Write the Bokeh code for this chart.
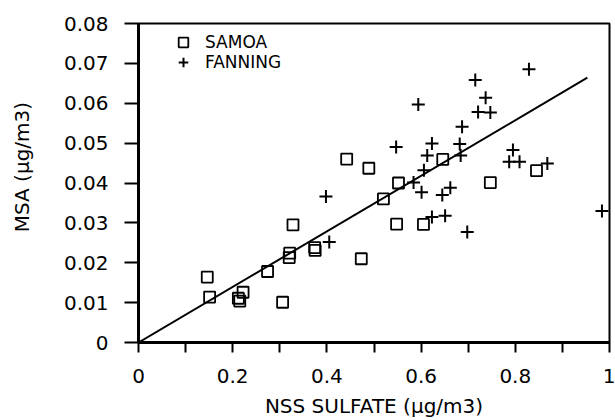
from bokeh.plotting import figure
from bokeh.models import Range1d, FixedTicker, Legend, LegendItem
from bokeh.embed import file_html
from bokeh.resources import INLINE

# ---- data ----
series_names = ["SAMOA", "FANNING"]

samoa_x = [0.146, 0.151, 0.222, 0.212, 0.215, 0.274, 0.306, 0.320, 0.321, 0.328,
           0.374, 0.375, 0.442, 0.473, 0.489, 0.520, 0.548, 0.552, 0.605, 0.646,
           0.747, 0.845]
samoa_y = [0.0164, 0.0114, 0.0126, 0.0111, 0.0104, 0.0178, 0.0101, 0.0213, 0.0224, 0.0295,
           0.0238, 0.0231, 0.0460, 0.0210, 0.0437, 0.0360, 0.0297, 0.0400, 0.0296, 0.0459,
           0.0401, 0.0431]

fanning_x = [0.398, 0.405, 0.547, 0.584, 0.594, 0.601, 0.606, 0.613, 0.623, 0.623,
             0.645, 0.651, 0.662, 0.682, 0.684, 0.687, 0.698, 0.715, 0.721, 0.737,
             0.747, 0.787, 0.795, 0.809, 0.829, 0.868, 0.984]
fanning_y = [0.0366, 0.0252, 0.0490, 0.0401, 0.0597, 0.0377, 0.0432, 0.0469, 0.0499, 0.0315,
             0.0370, 0.0318, 0.0388, 0.0498, 0.0469, 0.0541, 0.0277, 0.0658, 0.0578, 0.0614,
             0.0577, 0.0453, 0.0483, 0.0453, 0.0685, 0.0449, 0.0330]

fit_x = [0.0, 0.953]
fit_y = [0.0, 0.0664]

x_ticks = [0.0, 0.2, 0.4, 0.6, 0.8, 1.0]
x_tick_labels = ["0", "0.2", "0.4", "0.6", "0.8", "1"]
x_minor_ticks = [0.1, 0.3, 0.5, 0.7, 0.9]
y_ticks = [0.0, 0.01, 0.02, 0.03, 0.04, 0.05, 0.06, 0.07, 0.08]
y_tick_labels = ["0", "0.01", "0.02", "0.03", "0.04", "0.05", "0.06", "0.07", "0.08"]

x_title = "NSS SULFATE (\u00b5g/m3)"
y_title = "MSA (\u00b5g/m3)"

FONT = "DejaVu Sans"
W, H = 615, 420

p = figure(width=W, height=H,
           x_range=Range1d(0, 1), y_range=Range1d(0, 0.08),
           output_backend="svg", toolbar_location=None,
           min_border_left=138, min_border_right=W - 609,
           min_border_top=23, min_border_bottom=H - 342)

p.background_fill_color = "white"
p.border_fill_color = "white"
p.outline_line_color = "black"
p.outline_line_width = 2
p.xgrid.visible = False
p.ygrid.visible = False

# x axis
xa = p.xaxis[0]
xa.ticker = FixedTicker(ticks=x_ticks, minor_ticks=x_minor_ticks)
xa.major_label_overrides = {t: l for t, l in zip(x_ticks, x_tick_labels)}
xa.axis_line_width = 3
xa.axis_line_color = "black"
xa.major_tick_in = 0
xa.major_tick_out = 10
xa.minor_tick_in = 0
xa.minor_tick_out = 10
xa.major_tick_line_width = 2
xa.minor_tick_line_width = 2
xa.major_tick_line_color = "black"
xa.minor_tick_line_color = "black"
xa.major_label_text_font = FONT
xa.major_label_text_font_size = "20px"
xa.major_label_text_color = "black"
xa.major_label_text_line_height = 0.8
xa.major_label_standoff = 16
xa.axis_label = x_title
xa.axis_label_text_font = FONT
xa.axis_label_text_font_size = "20px"
xa.axis_label_text_font_style = "normal"
xa.axis_label_text_color = "black"
xa.axis_label_standoff = 8

# y axis
ya = p.yaxis[0]
ya.ticker = FixedTicker(ticks=y_ticks, minor_ticks=[])
ya.major_label_overrides = {t: l for t, l in zip(y_ticks, y_tick_labels)}
ya.axis_line_width = 3
ya.axis_line_color = "black"
ya.major_tick_in = 0
ya.major_tick_out = 14
ya.major_tick_line_width = 2
ya.major_tick_line_color = "black"
ya.minor_tick_line_color = None
ya.major_label_text_font = FONT
ya.major_label_text_font_size = "20px"
ya.major_label_text_color = "black"
ya.major_label_standoff = 16
# leading no-break spaces lift the centred title a little, as in the reference
ya.axis_label = "\u00a0" * 5 + y_title
ya.axis_label_text_font = FONT
ya.axis_label_text_font_size = "20px"
ya.axis_label_text_font_style = "normal"
ya.axis_label_text_color = "black"
ya.axis_label_standoff = 27

# data
r_fit = p.line(fit_x, fit_y, line_color="black", line_width=2)
r_samoa = p.scatter(samoa_x, samoa_y, marker="square", size=11,
                    fill_color=None, line_color="black", line_width=1.8)
r_fan = p.scatter(fanning_x, fanning_y, marker="cross", size=13,
                  line_color="black", line_width=2)

# legend: one small legend per entry so the row pitch matches the reference
for name, rend, vy in [(series_names[0], r_samoa, 288), (series_names[1], r_fan, 268)]:
    lg = Legend(items=[LegendItem(label=name, renderers=[rend])],
                location=(33, vy), padding=0, margin=0, spacing=0,
                glyph_width=24, glyph_height=24, label_standoff=10,
                label_text_font=FONT, label_text_font_size="17px",
                label_text_color="black",
                border_line_color=None, background_fill_alpha=0)
    p.add_layout(lg)

open("out.html", "w").write(file_html(p, INLINE))
